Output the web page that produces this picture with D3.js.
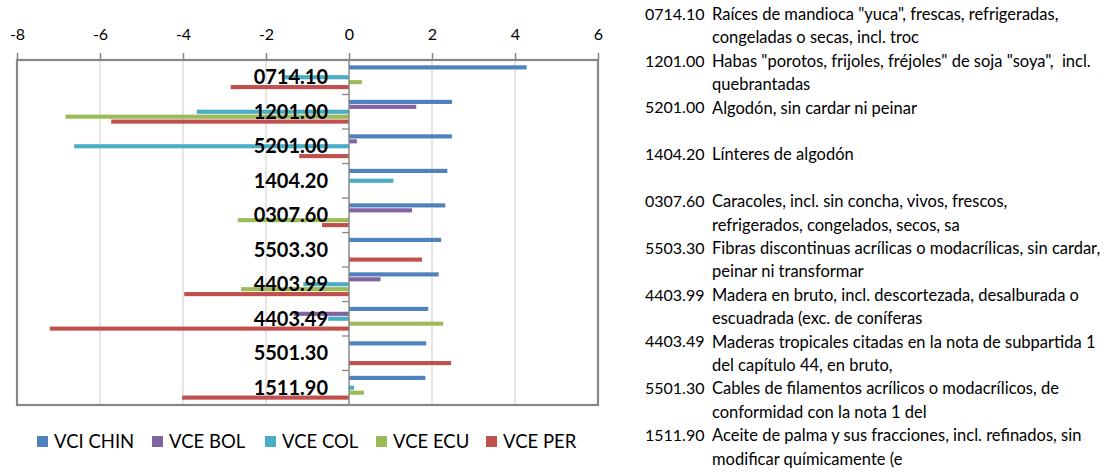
<!DOCTYPE html>
<html>
<head>
<meta charset="utf-8">
<script src="https://cdn.jsdelivr.net/npm/d3@7"></script>
<style>
  html, body { margin: 0; padding: 0; background: #fff; }
  svg { display: block; }
</style>
</head>
<body>
<svg id="chart" width="1111" height="473"></svg>
<script>
// ---- Data ----
const categories = ["0714.10","1201.00","5201.00","1404.20","0307.60","5503.30","4403.99","4403.49","5501.30","1511.90"];
const seriesNames = ["VCI CHIN","VCE BOL","VCE COL","VCE ECU","VCE PER"];
const vciChin = [4.28, 2.48, 2.48, 2.37, 2.32, 2.22, 2.16, 1.91, 1.86, 1.84];
const vceBol  = [0.00, 1.62, 0.19, 0.00, 1.52, 0.00, 0.76, -1.33, 0.00, 0.00];
const vceCol  = [-1.55, -3.67, -6.62, 1.07, 0.00, 0.00, -1.10, -0.50, 0.00, 0.12];
const vceEcu  = [0.31, -6.83, 0.00, 0.00, -2.68, 0.00, -2.60, 2.27, 0.00, 0.36];
const vcePer  = [-2.85, -5.73, -1.20, 0.00, -0.65, 1.76, -3.97, -7.21, 2.46, -4.02];
const xTicks = [-8, -6, -4, -2, 0, 2, 4, 6];
const descCodes = ["0714.10","","1201.00","","5201.00","","1404.20","","0307.60","","5503.30","","4403.99","","4403.49","","5501.30","","1511.90",""];
const descTexts = [
  'Raíces de mandioca "yuca", frescas, refrigeradas,',
  'congeladas o secas, incl. troc',
  'Habas "porotos, frijoles, fréjoles" de soja "soya",  incl.',
  'quebrantadas',
  'Algodón, sin cardar ni peinar',
  '',
  'Línteres de algodón',
  '',
  'Caracoles, incl. sin concha, vivos, frescos,',
  'refrigerados, congelados, secos, sa',
  'Fibras discontinuas acrílicas o modacrílicas, sin cardar,',
  'peinar ni transformar',
  'Madera en bruto, incl. descortezada, desalburada o',
  'escuadrada (exc. de coníferas',
  'Maderas tropicales citadas en la nota de subpartida 1',
  'del capítulo 44, en bruto,',
  'Cables de filamentos acrílicos o modacrílicos, de',
  'conformidad con la nota 1 del',
  'Aceite de palma y sus fracciones, incl. refinados, sin',
  'modificar químicamente (e'
];
const colors = ["#4F81BD","#8064A2","#4BACC6","#9BBB59","#C0504D"];

const seriesValues = [vciChin, vceBol, vceCol, vceEcu, vcePer];

// ---- Layout ----
const svg = d3.select("#chart");
const FONT = "Lato, 'Open Sans', sans-serif";
const plot = { left: 17, right: 598, top: 60, bottom: 405 };

const x = d3.scaleLinear().domain([-8, 6]).range([plot.left, plot.right]);
const y = d3.scaleBand().domain(categories).range([plot.top, plot.bottom]).paddingInner(0).paddingOuter(0);
const ySub = d3.scaleBand().domain(seriesNames).range([0, y.bandwidth()]).paddingInner(0).paddingOuter(1);

// gridlines
svg.append("g").selectAll("line").data(xTicks).join("line")
  .attr("x1", d => x(d)).attr("x2", d => x(d))
  .attr("y1", plot.top).attr("y2", plot.bottom)
  .attr("stroke", "#D9D9D9").attr("stroke-width", 1.3);

// top axis
const axisTop = d3.axisTop(x).tickValues(xTicks).tickSize(7).tickPadding(13).tickFormat(d3.format("d"));
const gAxis = svg.append("g").attr("transform", `translate(0,${plot.top})`).call(axisTop);
gAxis.select(".domain").remove();
gAxis.selectAll(".tick line").attr("stroke", "#868686").attr("stroke-width", 1.5);
gAxis.selectAll(".tick text").attr("font-family", FONT).attr("font-size", 16).attr("fill", "#000")
  .text(d => d < 0 ? "-" + Math.abs(d) : d);

// bars
const gBars = svg.append("g");
seriesValues.forEach((vals, si) => {
  gBars.selectAll(null).data(categories).join("rect")
    .attr("x", (c, i) => x(Math.min(0, vals[i])))
    .attr("width", (c, i) => Math.abs(x(vals[i]) - x(0)))
    .attr("y", c => y(c) + ySub(seriesNames[si]) + 0.4)
    .attr("height", ySub.bandwidth() - 0.8)
    .attr("fill", colors[si]);
});

// zero axis with category ticks
svg.append("line").attr("x1", x(0)).attr("x2", x(0)).attr("y1", plot.top).attr("y2", plot.bottom)
  .attr("stroke", "#868686").attr("stroke-width", 1.3);
svg.append("g").selectAll("line").data(categories.slice(1)).join("line")
  .attr("x1", x(0) - 7).attr("x2", x(0))
  .attr("y1", c => y(c)).attr("y2", c => y(c))
  .attr("stroke", "#868686").attr("stroke-width", 1.3);

// plot border
svg.append("rect").attr("x", plot.left).attr("y", plot.top)
  .attr("width", plot.right - plot.left).attr("height", plot.bottom - plot.top)
  .attr("fill", "none").attr("stroke", "#868686").attr("stroke-width", 2.2);

// category labels
svg.append("g").selectAll("text").data(categories).join("text")
  .attr("x", 328).attr("y", c => y(c) + y.bandwidth() / 2)
  .attr("dy", "0.36em").attr("text-anchor", "end")
  .attr("font-family", FONT).attr("font-weight", "bold").attr("font-size", 20)
  .attr("fill", "#000").text(c => c);

// legend
const legendX = [37, 152, 265, 376, 486];
const gLeg = svg.append("g");
seriesNames.forEach((s, i) => {
  gLeg.append("rect").attr("x", legendX[i]).attr("y", 436).attr("width", 11).attr("height", 11).attr("fill", colors[i]);
  gLeg.append("text").attr("x", legendX[i] + 17).attr("y", 441.5).attr("dy", "0.36em")
    .attr("font-family", FONT).attr("font-size", 18.5).attr("fill", "#000").text(s);
});

// description list
const gDesc = svg.append("g");
descTexts.forEach((t, i) => {
  const yy = 14 + i * 23.4;
  if (descCodes[i]) {
    gDesc.append("text").attr("x", 645).attr("y", yy).attr("dy", "0.36em")
      .attr("font-family", FONT).attr("font-size", 16).attr("fill", "#000").text(descCodes[i]);
  }
  if (t) {
    gDesc.append("text").attr("x", 712).attr("y", yy).attr("dy", "0.36em")
      .attr("font-family", FONT).attr("font-size", 16.5).attr("fill", "#000")
      .style("white-space", "pre").attr("xml:space", "preserve").text(t);
  }
});
</script>
</body>
</html>
